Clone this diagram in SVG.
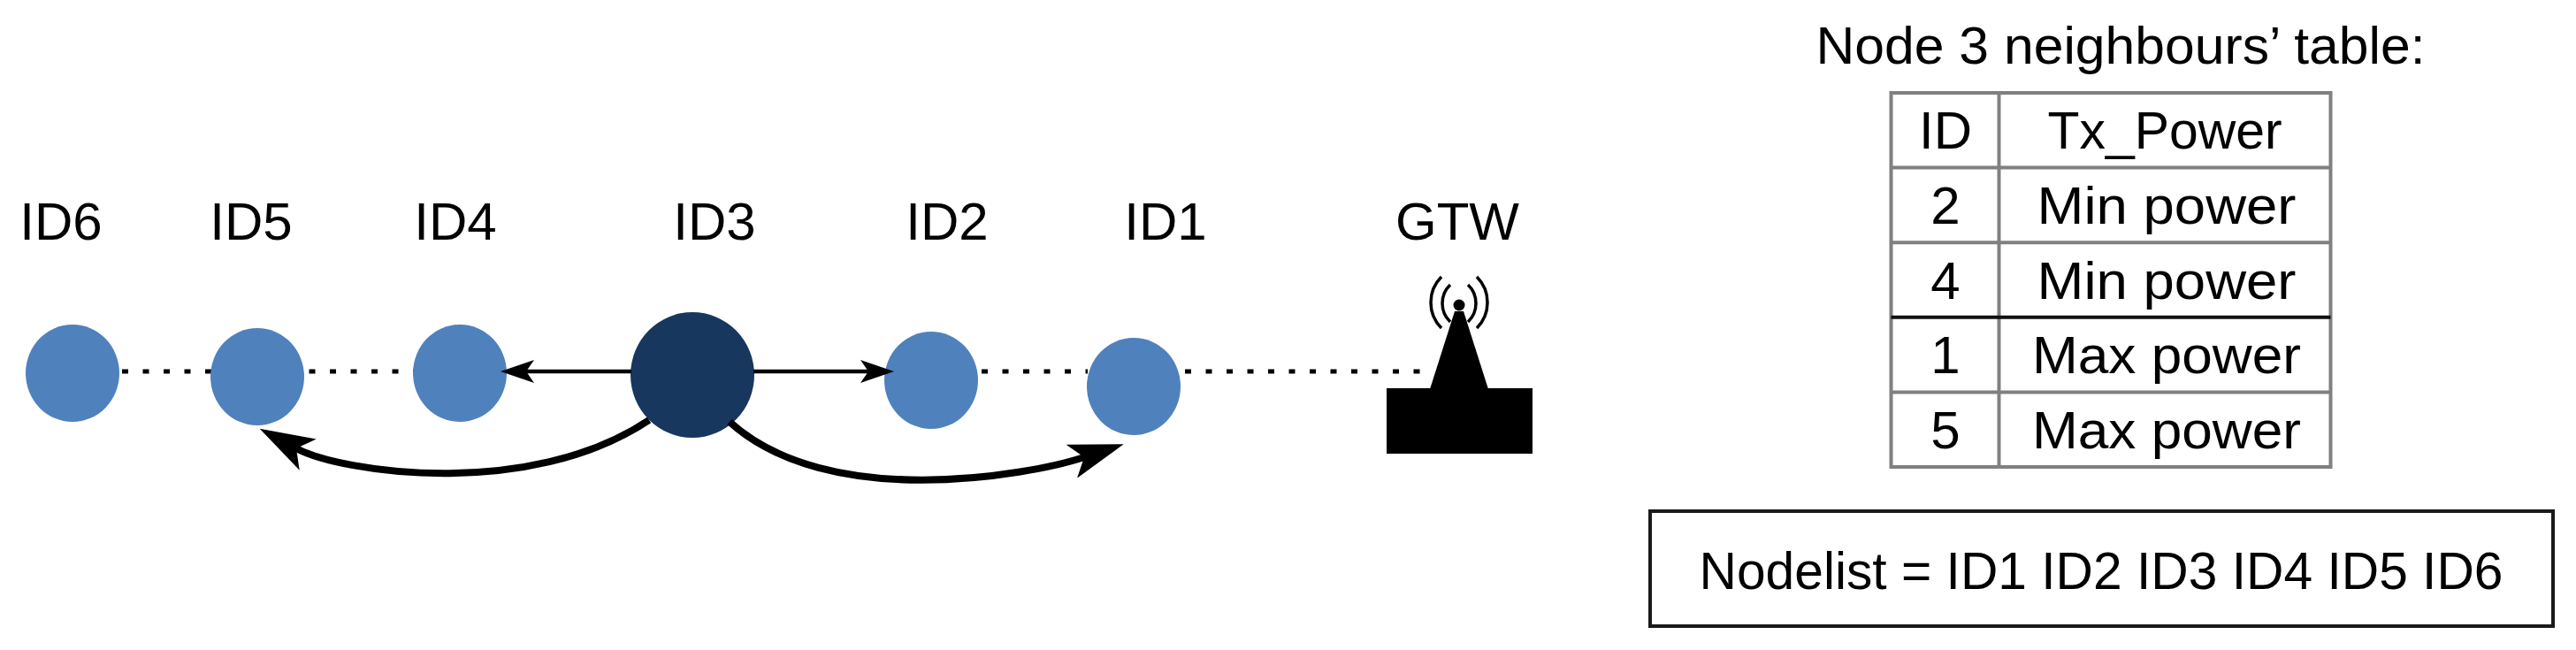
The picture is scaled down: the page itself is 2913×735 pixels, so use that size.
<svg xmlns="http://www.w3.org/2000/svg" width="2913" height="735" viewBox="0 0 2913 735">
<style>
.lbl{font-family:'Liberation Sans',Arial,sans-serif;font-size:60px;fill:#000;text-anchor:middle}
.node{fill:#4f81bd}
.hub{fill:#17375e}
.dot{stroke:#000;stroke-width:5;stroke-dasharray:7 16.5;fill:none}
.arr{stroke:#000;stroke-width:4.5;fill:none}
.curve{stroke:#000;stroke-width:8;fill:none}
.grid{stroke:#808080;stroke-width:4;fill:none}
.wave{stroke:#000;stroke-width:3.5;fill:none}
</style>
<defs>
<marker id="ahS" viewBox="0 0 38 26" markerWidth="38" markerHeight="26" refX="9" refY="13" orient="auto" markerUnits="userSpaceOnUse"><path d="M0,0 L38,13 L0,26 L9,13 Z" fill="#000"/></marker>
<marker id="ahL" viewBox="0 0 62 40" markerWidth="62" markerHeight="40" refX="15" refY="20" orient="auto" markerUnits="userSpaceOnUse"><path d="M0,0 L62,20 L0,40 L15,20 Z" fill="#000"/></marker>
</defs>
<rect width="2913" height="735" fill="#fff"/>

<g id="links-dotted">
<line class="dot" x1="138" y1="420" x2="468" y2="420"/>
<line class="dot" x1="1110" y1="420" x2="1230" y2="420"/>
<line class="dot" x1="1340" y1="420" x2="1606" y2="420"/>
</g>

<g id="node-id6"><ellipse class="node" cx="82" cy="422" rx="53" ry="55"/><text class="lbl" x="69" y="271">ID6</text></g>
<g id="node-id5"><ellipse class="node" cx="291" cy="426" rx="53" ry="55"/><text class="lbl" x="284" y="271">ID5</text></g>
<g id="node-id4"><ellipse class="node" cx="520" cy="422" rx="53" ry="55"/><text class="lbl" x="515" y="271">ID4</text></g>
<g id="node-id3"><ellipse class="hub" cx="783" cy="424" rx="70" ry="71"/><text class="lbl" x="808" y="271">ID3</text></g>
<g id="node-id2"><ellipse class="node" cx="1053" cy="430" rx="53" ry="55"/><text class="lbl" x="1071" y="271">ID2</text></g>
<g id="node-id1"><ellipse class="node" cx="1282" cy="437" rx="53" ry="55"/><text class="lbl" x="1318" y="271">ID1</text></g>

<g id="node-gtw">
<rect x="1568" y="439" width="165" height="74" fill="#000"/>
<polygon points="1645,352 1655,352 1683,440 1617,440" fill="#000"/>
<circle cx="1650" cy="345" r="6.5" fill="#000"/>
<path class="wave" d="M1640,322 A29,29 0 0 0 1640,364"/>
<path class="wave" d="M1630,313 A41,41 0 0 0 1630,371"/>
<path class="wave" d="M1660,322 A29,29 0 0 1 1660,364"/>
<path class="wave" d="M1670,313 A41,41 0 0 1 1670,371"/>
<text class="lbl" x="1648" y="271">GTW</text>
</g>

<g id="connectors">
<line class="arr" x1="714" y1="420" x2="595" y2="420" marker-end="url(#ahS)"/>
<line class="arr" x1="852" y1="420" x2="982" y2="420" marker-end="url(#ahS)"/>
<path class="curve" d="M734,475 C598,566 385,534 335,507" marker-end="url(#ahL)"/>
<path class="curve" d="M825,477 C936,578 1162,538 1226,517" marker-end="url(#ahL)"/>
</g>

<g id="neighbour-table">
<text class="lbl" x="2398" y="72" textLength="689" lengthAdjust="spacingAndGlyphs">Node 3 neighbours’ table:</text>
<rect class="grid" x="2138.5" y="105" width="497" height="423"/>
<line class="grid" x1="2260.5" y1="105" x2="2260.5" y2="528"/>
<line class="grid" x1="2138.5" y1="189.6" x2="2635.5" y2="189.6"/>
<line class="grid" x1="2138.5" y1="274.2" x2="2635.5" y2="274.2"/>
<line stroke="#111" stroke-width="4" x1="2138.5" y1="358.8" x2="2635.5" y2="358.8"/>
<line class="grid" x1="2138.5" y1="443.4" x2="2635.5" y2="443.4"/>
<text class="lbl" x="2200" y="168">ID</text>
<text class="lbl" x="2448" y="168" textLength="265" lengthAdjust="spacingAndGlyphs">Tx_Power</text>
<text class="lbl" x="2200" y="253">2</text>
<text class="lbl" x="2450" y="253" textLength="293" lengthAdjust="spacingAndGlyphs">Min power</text>
<text class="lbl" x="2200" y="337.5">4</text>
<text class="lbl" x="2450" y="337.5" textLength="293" lengthAdjust="spacingAndGlyphs">Min power</text>
<text class="lbl" x="2200" y="422">1</text>
<text class="lbl" x="2450" y="422" textLength="304" lengthAdjust="spacingAndGlyphs">Max power</text>
<text class="lbl" x="2200" y="507">5</text>
<text class="lbl" x="2450" y="507" textLength="304" lengthAdjust="spacingAndGlyphs">Max power</text>
</g>

<g id="nodelist">
<rect x="1866" y="578" width="1021" height="130" fill="#fff" stroke="#1a1a1a" stroke-width="4"/>
<text class="lbl" x="2376" y="666" textLength="909" lengthAdjust="spacingAndGlyphs">Nodelist = ID1 ID2 ID3 ID4 ID5 ID6</text>
</g>
</svg>
